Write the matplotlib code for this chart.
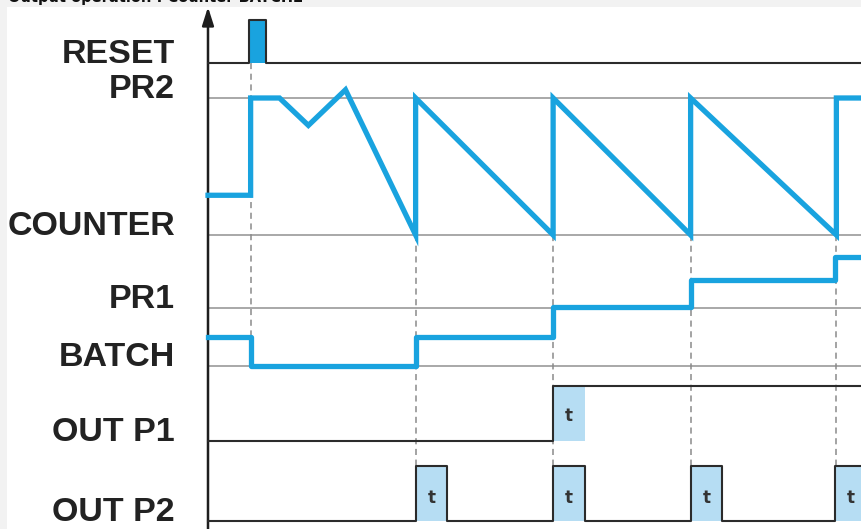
import matplotlib
matplotlib.use("Agg")
import matplotlib.pyplot as plt
from matplotlib import font_manager
from matplotlib.patches import Rectangle

# ---------------- data ----------------
title = "Output operation : Counter BATCH2"
labels = ["RESET", "PR2", "COUNTER", "PR1", "BATCH", "OUT P1", "OUT P2"]

# time units (axis origin = 0)
reset_t = [0, 3.0, 3.0, 4.2, 4.2, 47.5]
reset_v = [0, 0, 1, 1, 0, 0]

counter_t = [0, 3.1, 3.1, 5.2, 7.3, 10.0, 15.1, 15.1, 25.1, 25.1, 35.1, 35.1, 45.7, 45.7, 47.5]
counter_v = [29, 29, 100, 100, 80, 106, 0, 100, 0, 100, 0, 100, 0, 100, 100]

batch_t = [0, 3.1, 15.1, 25.1, 35.1, 45.6, 47.5]
batch_v = [1, 0, 1, 2.05, 2.95, 3.75, 3.75]

outp1_t = [0, 25.1, 25.1, 47.5]
outp1_v = [0, 0, 1, 1]
outp1_timer = [(25.1, 27.4)]

outp2_t = [0, 15.1, 15.1, 17.4, 17.4, 25.1, 25.1, 27.4, 27.4, 35.1, 35.1, 37.4, 37.4, 45.6, 45.6, 47.5]
outp2_v = [0, 0, 1, 1, 0, 0, 1, 1, 0, 0, 1, 1, 0, 0, 1, 1]
outp2_timers = [(15.1, 17.4), (25.1, 27.4), (35.1, 37.4), (45.6, 47.9)]

reset_event = 3.1
cycle_events = [15.1, 25.1, 35.1, 45.7]

# ---------------- layout (pixels) ----------------
W, H = 861, 529
AXIS_X = 208          # px position of time origin
PX_PER_T = 13.75
T_MIN = -AXIS_X / PX_PER_T
T_MAX = (W - AXIS_X) / PX_PER_T

Y_RESET_LO, Y_RESET_HI = 63, 20
Y_PR2, Y_COUNTER = 98, 235
Y_PR1, Y_BATCH = 308, 366
Y_P1_LO, Y_P1_HI = 441, 386
Y_P2_LO, Y_P2_HI = 521, 466
label_baselines = [Y_RESET_LO, Y_PR2, Y_COUNTER, Y_PR1, Y_BATCH, Y_P1_LO, Y_P2_LO]

BLUE = "#19a3df"
LIGHT = "#b6ddf3"
DARK = "#2b2b2b"
GREY = "#9a9a9a"

names = {f.name for f in font_manager.fontManager.ttflist}
if "Liberation Sans Narrow" in names:
    LFONT, LSIZE = "Liberation Sans Narrow", 27.5
else:
    LFONT, LSIZE = "Liberation Sans", 24.5

fig = plt.figure(figsize=(W / 100, H / 100), dpi=100)
fig.patch.set_facecolor("white")

# light grey edge strips
fig.patches.append(Rectangle((0, 0), 7 / W, 1, transform=fig.transFigure,
                             facecolor="#f2f2f2", edgecolor="none", zorder=-5))
fig.patches.append(Rectangle((0, 1 - 7 / H), 1, 7 / H, transform=fig.transFigure,
                             facecolor="#f2f2f2", edgecolor="none", zorder=-5))


def new_axes():
    ax = fig.add_axes([0, 0, 1, 1])
    ax.set_xlim(T_MIN, T_MAX)
    ax.axis("off")
    ax.patch.set_alpha(0)
    return ax


def lane(v0, p0, v1, p1):
    ax = new_axes()
    slope = (v1 - v0) / (p1 - p0)
    ax.set_ylim(v0 + (H - p0) * slope, v0 + (0 - p0) * slope)
    return ax


# frame axes: time on x, pixel rows on y
frame = new_axes()
frame.set_ylim(H, 0)
for y in [Y_PR2, Y_COUNTER, Y_PR1, Y_BATCH]:
    frame.hlines(y, 0, T_MAX, color=GREY, lw=1.2)
frame.vlines(reset_event, Y_RESET_LO, Y_BATCH, color="#8a8a8a", lw=1.1, linestyles=(0, (4, 3)))
for t in cycle_events:
    frame.vlines(t, Y_COUNTER, Y_P2_LO, color="#8a8a8a", lw=1.1, linestyles=(0, (4, 3)))
frame.annotate("", xy=(0, 7), xytext=(0, H + 5),
               arrowprops=dict(arrowstyle="-|>,head_length=1.1,head_width=0.35",
                               lw=1.8, color="#1e1e1e", shrinkA=0, shrinkB=0))

for lab, yb in zip(labels, label_baselines):
    fig.text(175 / W, 1 - yb / H, lab, ha="right", va="baseline",
             fontsize=LSIZE, fontweight="bold", family=[LFONT, "DejaVu Sans"], color="#222222")

fig.text(8 / W, 1 - 5 / H, title, ha="left", va="bottom", fontsize=10.5,
         fontweight="bold", color="#111111")

# RESET
ax_r = lane(0, Y_RESET_LO, 1, Y_RESET_HI)
ax_r.fill_between(reset_t, reset_v, 0, step=None, color=BLUE, lw=0)
ax_r.plot(reset_t, reset_v, color=DARK, lw=1.5)

# COUNTER
ax_c = lane(0, Y_COUNTER, 100, Y_PR2)
ax_c.plot(counter_t, counter_v, color=BLUE, lw=3.8, solid_joinstyle="miter")

# BATCH
ax_b = lane(0, Y_BATCH, 2, Y_PR1)
ax_b.plot(batch_t, batch_v, color=BLUE, lw=3.8, drawstyle="steps-post")

# OUT P1
ax_p1 = lane(0, Y_P1_LO, 1, Y_P1_HI)
for a, b in outp1_timer:
    ax_p1.fill_between([a, b], 0, 1, color=LIGHT, lw=0)
    ax_p1.text((a + b) / 2, 0.45, "t", ha="center", va="center", fontsize=12,
               fontweight="bold", color="#333333")
ax_p1.plot(outp1_t, outp1_v, color=DARK, lw=1.5)

# OUT P2
ax_p2 = lane(0, Y_P2_LO, 1, Y_P2_HI)
for a, b in outp2_timers:
    ax_p2.fill_between([a, b], 0, 1, color=LIGHT, lw=0)
    ax_p2.text((a + b) / 2, 0.42, "t", ha="center", va="center", fontsize=12,
               fontweight="bold", color="#333333")
ax_p2.plot(outp2_t, outp2_v, color=DARK, lw=1.5)

fig.savefig("out.png", dpi=100)
